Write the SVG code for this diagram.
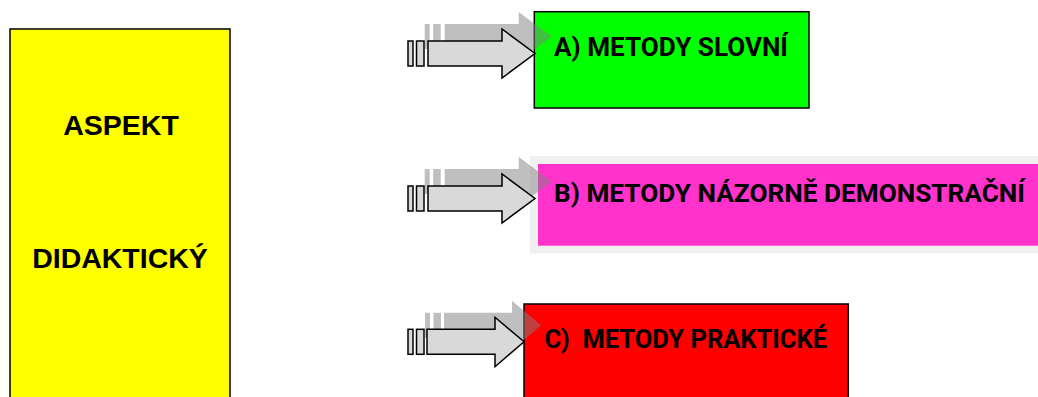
<svg xmlns="http://www.w3.org/2000/svg" width="1038" height="397" viewBox="0 0 1038 397">
  <style>
    .box { stroke: #000; stroke-width: 1.5; }
    .t1 { font-family: "Liberation Sans", Arial, sans-serif; font-weight: bold; font-size: 28.5px; fill: #000; text-anchor: middle; }
    .t2 { font-family: Roboto, "Noto Sans", sans-serif; font-weight: bold; fill: #000; }
    .arrow { fill: #d9d9d9; stroke: #000; stroke-width: 1.5; stroke-linejoin: miter; }
    .shadow { fill: #808080; opacity: 0.5; }
  </style>
  <defs>
    <g id="arrowLong">
      <rect x="408" y="41" width="5" height="25"/>
      <rect x="416.5" y="41" width="7.5" height="25"/>
      <path d="M428,41 H502 V29 L535,53.5 L502,78 V66 H428 Z"/>
    </g>
    <g id="arrowShort">
      <rect x="408" y="329.3" width="5" height="25"/>
      <rect x="416.5" y="329.3" width="7.5" height="25"/>
      <path d="M427,329.3 H495 V317.3 L524,341.7 L495,366.7 V354.3 H427 Z"/>
    </g>
  </defs>

  <g id="node-aspekt">
    <rect class="box" x="10" y="29" width="220" height="376" fill="#ffff00"/>
    <text class="t1" x="121" y="135">ASPEKT</text>
    <text class="t1" x="120" y="268">DIDAKTICKÝ</text>
  </g>

  <g id="node-a">
    <rect class="box" x="534.3" y="11.7" width="274.7" height="96.3" fill="#00ff00"/>
    <text class="t2" x="554" y="56" font-size="25" textLength="234" lengthAdjust="spacingAndGlyphs">A) METODY SLOVNÍ</text>
  </g>

  <g id="node-b">
    <rect x="530" y="156" width="508" height="97.5" fill="#f0f0f0"/>
    <rect x="538" y="164" width="500" height="81.7" fill="#ff33cc"/>
    <text class="t2" x="554" y="202" font-size="26.5" textLength="471" lengthAdjust="spacingAndGlyphs">B) METODY NÁZORNĚ DEMONSTRAČNÍ</text>
  </g>

  <g id="node-c">
    <rect class="box" x="524" y="304" width="324.3" height="104" fill="#ff0000"/>
    <text class="t2" x="544.5" y="348" font-size="25" textLength="282.5" lengthAdjust="spacingAndGlyphs" xml:space="preserve">C)  METODY PRAKTICKÉ</text>
  </g>

  <g id="connectors">
    <g id="arrow-a">
      <use href="#arrowLong" class="shadow" transform="translate(16.7,-17)"/>
      <use href="#arrowLong" class="arrow"/>
    </g>
    <g id="arrow-b">
      <use href="#arrowLong" class="shadow" transform="translate(16.7,128)"/>
      <use href="#arrowLong" class="arrow" transform="translate(0,145)"/>
    </g>
    <g id="arrow-c">
      <use href="#arrowShort" class="shadow" transform="translate(17,-16.5)"/>
      <use href="#arrowShort" class="arrow"/>
    </g>
  </g>
</svg>
